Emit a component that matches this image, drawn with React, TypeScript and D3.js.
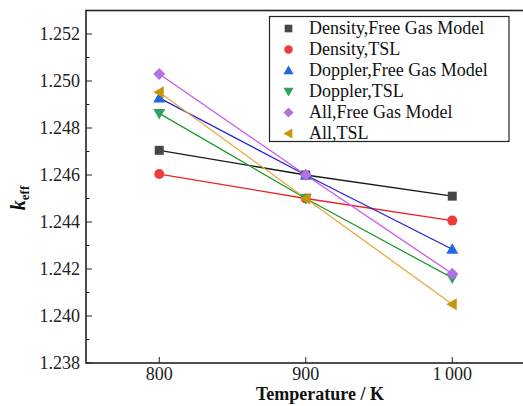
import React from "react";
import * as d3 from "d3";

const temperatures = [800, 900, 1000];
const seriesNames = [
  "Density,Free Gas Model",
  "Density,TSL",
  "Doppler,Free Gas Model",
  "Doppler,TSL",
  "All,Free Gas Model",
  "All,TSL",
];
const densityFGM = [1.24705, 1.246, 1.2451];
const densityTSL = [1.24604, 1.245, 1.24406];
const dopplerFGM = [1.24928, 1.246, 1.24284];
const dopplerTSL = [1.24862, 1.245, 1.24162];
const allFGM = [1.2503, 1.246, 1.2418];
const allTSL = [1.24952, 1.245, 1.2405];
const yTicks = [1.238, 1.24, 1.242, 1.244, 1.246, 1.248, 1.25, 1.252];
const yMinor = [1.239, 1.241, 1.243, 1.245, 1.247, 1.249, 1.251];
const xTickLabels = ["800", "900", "1\u2009000"];

const seriesValues = [densityFGM, densityTSL, dopplerFGM, dopplerTSL, allFGM, allTSL];
const markerColors = ["#474747", "#ef3b3b", "#1f66e0", "#2ea35c", "#b371e6", "#c9950c"];
const lineColors = ["#1a1a1a", "#ee2222", "#2222dd", "#1f9a2a", "#cc55f0", "#e8a93a"];
const shapes = ["square", "circle", "up", "down", "diamond", "left"];

const FONT = "Liberation Serif, DejaVu Serif, serif";

function Marker({ shape, x, y, color, k = 1 }: { shape: string; x: number; y: number; color: string; k?: number }) {
  if (shape === "square") return <rect x={x - 4.5 * k} y={y - 4.5 * k} width={9 * k} height={9 * k} fill={color} />;
  if (shape === "circle") return <circle cx={x} cy={y} r={5 * k} fill={color} />;
  const s = 6 * k;
  let pts: [number, number][] = [];
  if (shape === "up") pts = [[x, y - s], [x + s, y + s * 0.75], [x - s, y + s * 0.75]];
  if (shape === "down") pts = [[x, y + s], [x + s, y - s * 0.75], [x - s, y - s * 0.75]];
  if (shape === "left") pts = [[x - s, y], [x + s * 0.75, y - s], [x + s * 0.75, y + s]];
  if (shape === "diamond") pts = [[x, y - s], [x + s, y], [x, y + s], [x - s, y]];
  return <polygon points={pts.map((p) => p.join(",")).join(" ")} fill={color} />;
}

export default function App() {
  const left = 86;
  const top = 10.5;
  const bottom = 363;
  const x = d3.scaleLinear().domain([750, 1050]).range([left, left + 439.5]);
  const y = d3.scaleLinear().domain([1.238, 1.253]).range([bottom, top]);
  const right = x(1050);
  const line = d3
    .line<number>()
    .x((_, i) => x(temperatures[i]))
    .y((d) => y(d));
  const ts = { fontFamily: FONT };

  const legX = 269.5;
  const legY = 16.5;
  const legW = 239.5;
  const legH = 125;
  const rowH = 21;

  return (
    <svg
      width={523}
      height={406}
      style={{ position: "absolute", left: 0, top: 0, background: "#fff", fontFamily: FONT }}
    >
      <rect x={0} y={0} width={523} height={406} fill="#fff" />
      {seriesValues.map((vals, i) => (
        <path key={"l" + i} d={line(vals) || ""} fill="none" stroke={lineColors[i]} strokeWidth={1.3} />
      ))}
      {seriesValues.map((vals, i) =>
        vals.map((v, j) => (
          <Marker key={"m" + i + "-" + j} shape={shapes[i]} x={x(temperatures[j])} y={y(v)} color={markerColors[i]} />
        ))
      )}
      <rect x={left} y={top} width={right - left} height={bottom - top} fill="none" stroke="#222" strokeWidth={1.6} />
      {yTicks.map((t) => (
        <g key={"yt" + t}>
          <line x1={left} x2={left + 6} y1={y(t)} y2={y(t)} stroke="#222" strokeWidth={1} />
          <text style={ts} x={80} y={y(t)} dy="0.35em" textAnchor="end" fontSize={18} fill="#222">
            {d3.format(".3f")(t)}
          </text>
        </g>
      ))}
      {yMinor.map((t) => (
        <line key={"ym" + t} x1={left} x2={left + 3.5} y1={y(t)} y2={y(t)} stroke="#222" strokeWidth={1} />
      ))}
      {temperatures.map((t, i) => (
        <g key={"xt" + t}>
          <line x1={x(t)} x2={x(t)} y1={bottom} y2={bottom - 6} stroke="#222" strokeWidth={1} />
          <text style={ts} x={x(t)} y={380} textAnchor="middle" fontSize={18} fill="#222">
            {xTickLabels[i]}
          </text>
        </g>
      ))}
      <text style={ts} x={320} y={399.5} textAnchor="middle" fontSize={18} fontWeight="bold" fill="#111">
        Temperature / K
      </text>
      <text style={ts} transform="translate(25,198) rotate(-90)" textAnchor="middle" fontSize={20} fontWeight="bold" fill="#111">
        <tspan fontStyle="italic">k</tspan>
        <tspan fontSize={13} dy={4}>eff</tspan>
      </text>
      <rect x={legX} y={legY} width={legW} height={legH} fill="#fff" stroke="#222" strokeWidth={1.2} />
      {seriesNames.map((name, i) => {
        const cy = 28.5 + i * rowH;
        return (
          <g key={"lg" + i}>
            <Marker shape={shapes[i]} x={288.5} y={cy} color={markerColors[i]} k={0.85} />
            <text style={ts} x={309} y={cy} dy="0.33em" fontSize={18} fill="#111">
              {name}
            </text>
          </g>
        );
      })}
    </svg>
  );
}
